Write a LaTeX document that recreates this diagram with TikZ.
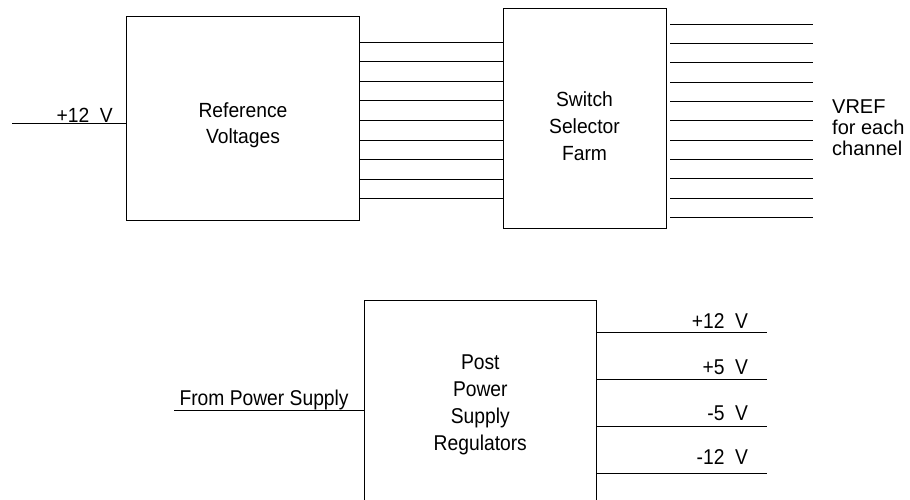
\documentclass[tikz,border=0pt]{standalone}
\usepackage{fontspec}
\setmainfont{Liberation Sans}
\newfontfamily\topfam[FakeStretch=0.94]{Liberation Sans}
\newfontfamily\botfam[FakeStretch=0.9]{Liberation Sans}
\usetikzlibrary{positioning}

\begin{document}
\begin{tikzpicture}[x=1pt, y=-1pt,
    blk/.style={draw, line width=1pt, inner sep=0pt, minimum width=232.5},
    lbl/.style={align=center, inner sep=0pt, font=\topfam\fontsize{20.5}{26}\selectfont},
    sm/.style={inner sep=0pt, font=\botfam\fontsize{21.4}{27.1}\selectfont},
    wr/.style={line width=0.9pt}]
\useasboundingbox (0,0) rectangle (910,499);
\clip (0,0) rectangle (910,499);
% blocks
\node[blk, minimum height=204] (ref) at (243,118) {};
\node[blk, minimum width=163, minimum height=220] (sw) at (584.5,118) {};
\node[blk, minimum height=260] (pps) at (480.3,430.7) {};
\node[lbl] (reftxt) at (243,125) {Reference\\Voltages};
\node[lbl, font=\topfam\fontsize{20.5}{26.7}\selectfont] (swtxt) at (584.5,126) {Switch\\Selector\\Farm};
\node[sm, align=center] (ppstxt) at (480.3,404.6) {Post\\Power\\Supply\\Regulators};
% +12 V in
\coordinate (vin) at (12,123);
\draw[wr] (vin) -- (ref.west |- vin);
\node[lbl, anchor=base east] (vinl) at (113,122.5) {+12\ \ V};
% bus between blocks
\foreach \i [evaluate=\i as \y using 42+19.6*\i] in {0,...,8}
  \draw[wr] (ref.east |- 0,\y) -- (sw.west |- 0,\y);
% VREF outputs
\coordinate (vbeg) at (670,0);
\coordinate (vend) at (813,0);
\foreach \i [evaluate=\i as \y using 24+19.33*\i] in {0,...,10}
  \draw[wr] (vbeg |- 0,\y) -- (vend |- 0,\y);
\node[inner sep=0pt, align=left, anchor=north west, font=\fontsize{20}{20.8}\selectfont] (vref) at (832,100) {VREF\\for each\\channel};
% power supply
\coordinate (psin) at (174,410.7);
\draw[wr] (psin) -- (pps.west |- psin);
\node[sm, anchor=base west] (psl) at (179.3,405) {From Power Supply};
\coordinate (oend) at (766.7,0);
\foreach \y/\b/\t [count=\k] in {332/328.3/+12, 379.3/374/+5, 426/420/-5, 473.3/464/-12} {
  \draw[wr] (pps.east |- 0,\y) -- (oend |- 0,\y);
  \node[sm, anchor=base east] (out\k) at (748.3,\b) {\t\ \ V};
}
\end{tikzpicture}
\end{document}
